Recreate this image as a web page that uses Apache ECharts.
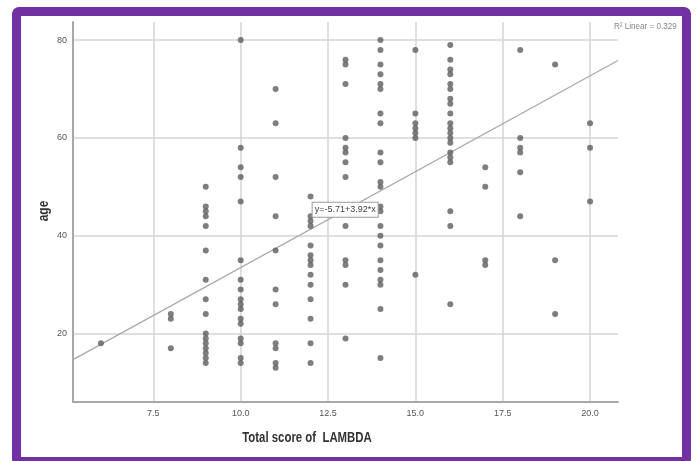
<!DOCTYPE html>
<html>
<head>
<meta charset="utf-8">
<script src="https://cdn.jsdelivr.net/npm/echarts@6/dist/echarts.min.js"></script>
<style>
  html, body { margin:0; padding:0; background:#fff; }
  #wrap { position:relative; width:697px; height:461px; overflow:hidden; background:#fff; }
  #frame { position:absolute; left:12px; top:7px; width:661px; height:441px; border:9px solid #7231a3; border-radius:7px; box-sizing:content-box; pointer-events:none; z-index:2; }
  #chart { position:absolute; left:0; top:0; width:697px; height:461px; z-index:1; }
</style>
</head>
<body>
<div id="wrap">
  <div id="chart"></div>
  <div id="frame"></div>
</div>
<script>
// Total score of LAMBDA (x) and the ages observed at each score
const scores = [6, 8, 9, 10, 11, 12, 13, 14, 15, 16, 17, 18, 19, 20];
const agesByScore = [
  [18],
  [17, 23, 24],
  [50, 46, 45, 44, 42, 37, 31, 27, 24, 20, 19, 18, 17, 16, 15, 14],
  [80, 58, 54, 52, 47, 35, 31, 29, 27, 26, 25, 23, 22, 19, 18, 15, 14],
  [70, 63, 52, 44, 37, 29, 26, 18, 17, 14, 13],
  [48, 44, 43, 42, 38, 36, 35, 34, 32, 30, 27, 23, 18, 14],
  [76, 75, 71, 60, 58, 57, 55, 52, 42, 35, 34, 30, 19],
  [80, 78, 75, 73, 71, 70, 65, 63, 57, 55, 51, 50, 46, 45, 42, 40, 38, 35, 33, 31, 30, 25, 15],
  [78, 65, 63, 62, 61, 60, 32],
  [79, 76, 74, 73, 71, 70, 68, 67, 65, 63, 62, 61, 60, 59, 57, 56, 55, 45, 42, 26],
  [54, 50, 35, 34],
  [78, 60, 58, 57, 53, 44],
  [75, 35, 24],
  [63, 58, 47]
];
const xTicks = [7.5, 10.0, 12.5, 15.0, 17.5, 20.0];
const yTicks = [20, 40, 60, 80];
const fitIntercept = -5.71;
const fitSlope = 3.92;
const rSquared = 0.329;
const xMin = 5.2, xMax = 20.8, yMin = 6, yMax = 83.7;

const points = [];
scores.forEach((s, i) => agesByScore[i].forEach(a => points.push([s, a])));
const fitLine = [xMin, xMax].map(x => [x, fitIntercept + fitSlope * x]);
const eqText = 'y=' + fitIntercept.toFixed(2) + '+' + fitSlope.toFixed(2) + '*x';

const font = "'Liberation Sans', Arial, sans-serif";
const chart = echarts.init(document.getElementById('chart'), null, { renderer: 'canvas' });
chart.setOption({
  animation: false,
  backgroundColor: 'transparent',
  grid: { left: 73, right: 79, top: 22, bottom: 59 },
  xAxis: {
    type: 'value', min: xMin, max: xMax,
    axisLine: { show: true, lineStyle: { color: '#a8a8a8', width: 2 } },
    axisTick: { show: false, customValues: xTicks },
    axisLabel: { customValues: xTicks, formatter: v => v.toFixed(1), color: '#555', fontSize: 9, fontFamily: font, margin: 7 },
    splitLine: { show: true, lineStyle: { color: '#d4d4d4', width: 1.5 } }
  },
  yAxis: {
    type: 'value', min: yMin, max: yMax,
    axisLine: { show: true, lineStyle: { color: '#a8a8a8', width: 2 } },
    axisTick: { show: false, customValues: yTicks },
    axisLabel: { customValues: yTicks, color: '#555', fontSize: 9, fontFamily: font, margin: 6 },
    splitLine: { show: true, lineStyle: { color: '#d4d4d4', width: 1.5 } }
  },
  graphic: [
    { type: 'text', x: 307, y: 438, scaleX: 0.76, style: { text: 'Total score of  LAMBDA', font: "bold 15px " + font, fill: '#333', align: 'center', verticalAlign: 'middle' } },
    { type: 'text', x: 44, y: 211, rotation: Math.PI / 2, scaleX: 0.85, style: { text: 'age', font: "bold 14px " + font, fill: '#333', align: 'center', verticalAlign: 'middle' } },
    { type: 'text', x: 614, y: 27, scaleX: 0.9, style: { text: 'R\u00B2 Linear = ' + rSquared.toFixed(3), font: "9px " + font, fill: '#888', verticalAlign: 'middle' } }
  ],
  series: [
    {
      type: 'line', data: fitLine, symbol: 'none', z: 2,
      lineStyle: { color: '#a9a9a9', width: 1.3 },
      markPoint: {
        symbol: 'rect', symbolSize: 0, z: 5,
        data: [{ coord: [12.99, 45.3], value: eqText }],
        label: {
          show: true, formatter: eqText, position: 'inside',
          color: '#444', fontSize: 9, fontFamily: font,
          backgroundColor: '#fff', borderColor: '#9a9a9a', borderWidth: 1,
          padding: [3, 2, 2, 2]
        }
      }
    },
    {
      type: 'scatter', data: points, symbolSize: 6, z: 3,
      itemStyle: { color: '#5e5e5e' }
    }
  ]
});
</script>
</body>
</html>
